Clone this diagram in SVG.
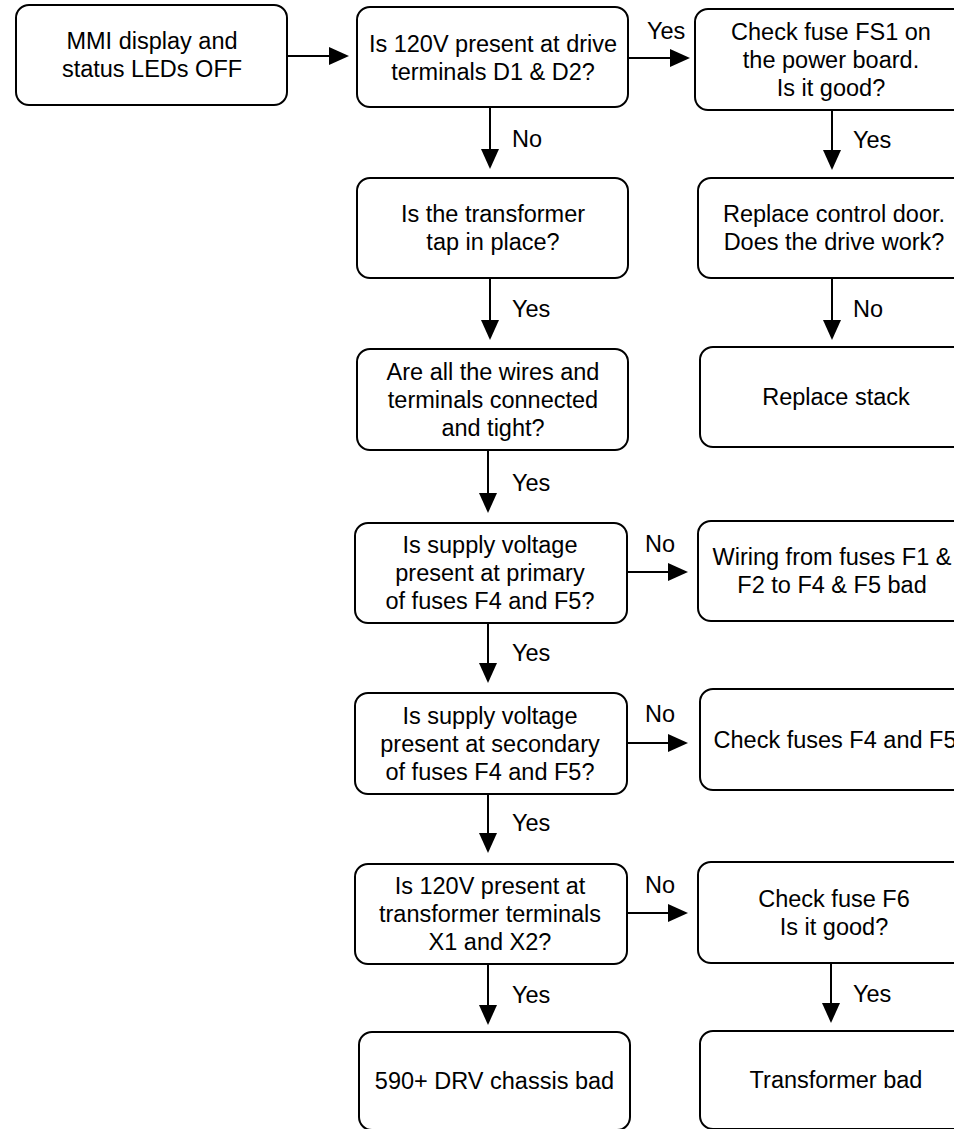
<svg xmlns="http://www.w3.org/2000/svg" width="954" height="1129" viewBox="0 0 954 1129">
<style>
.box{fill:#fff;stroke:#000;stroke-width:2}
.t{font-family:"Liberation Sans",Arial,sans-serif;font-size:23.5px;fill:#000;text-anchor:middle}
.l{font-family:"Liberation Sans",Arial,sans-serif;font-size:23.5px;fill:#000}
.c{stroke:#000;stroke-width:2;fill:none;marker-end:url(#ah)}
</style>
<defs>
<marker id="ah" markerUnits="userSpaceOnUse" markerWidth="20" markerHeight="18" viewBox="0 0 20 18" refX="10" refY="9" orient="auto">
<path d="M0,0 L20,9 L0,18 z" fill="#000"/>
</marker>
</defs>
<rect width="954" height="1129" fill="#fff"/>
<g id="connectors">
<line class="c" x1="287" y1="56" x2="339" y2="56"/>
<line class="c" x1="628" y1="58" x2="680" y2="58"/>
<text class="l" x="647" y="39">Yes</text>
<line class="c" x1="490" y1="107" x2="490" y2="159"/>
<text class="l" x="512" y="147">No</text>
<line class="c" x1="490" y1="278" x2="490" y2="330"/>
<text class="l" x="512" y="317">Yes</text>
<line class="c" x1="488" y1="450" x2="488" y2="503"/>
<text class="l" x="512" y="491">Yes</text>
<line class="c" x1="627" y1="572" x2="678" y2="572"/>
<text class="l" x="645" y="552">No</text>
<line class="c" x1="488" y1="623" x2="488" y2="673"/>
<text class="l" x="512" y="661">Yes</text>
<line class="c" x1="627" y1="743" x2="678" y2="743"/>
<text class="l" x="645" y="722">No</text>
<line class="c" x1="488" y1="794" x2="488" y2="843"/>
<text class="l" x="512" y="831">Yes</text>
<line class="c" x1="627" y1="913" x2="678" y2="913"/>
<text class="l" x="645" y="893">No</text>
<line class="c" x1="488" y1="964" x2="488" y2="1015"/>
<text class="l" x="512" y="1003">Yes</text>
<line class="c" x1="832" y1="110" x2="832" y2="160"/>
<text class="l" x="853" y="148">Yes</text>
<line class="c" x1="832" y1="278" x2="832" y2="330"/>
<text class="l" x="853" y="317">No</text>
<line class="c" x1="831" y1="963" x2="831" y2="1013"/>
<text class="l" x="853" y="1002">Yes</text>
</g>
<g id="n1"><rect class="box" x="16" y="5" width="271" height="100" rx="13"/>
<text class="t" x="152" y="49">MMI display and</text><text class="t" x="152" y="77">status LEDs OFF</text></g>
<g id="n2"><rect class="box" x="357" y="7" width="271" height="100" rx="13"/>
<text class="t" x="493" y="52">Is 120V present at drive</text><text class="t" x="493" y="80">terminals D1 &amp; D2?</text></g>
<g id="n3"><rect class="box" x="695" y="9" width="272" height="101" rx="13"/>
<text class="t" x="831" y="40">Check fuse FS1 on</text><text class="t" x="831" y="68">the power board.</text><text class="t" x="831" y="96">Is it good?</text></g>
<g id="n4"><rect class="box" x="357" y="178" width="271" height="100" rx="13"/>
<text class="t" x="493" y="222">Is the transformer</text><text class="t" x="493" y="250">tap in place?</text></g>
<g id="n5"><rect class="box" x="698" y="178" width="272" height="100" rx="13"/>
<text class="t" x="834" y="222">Replace control door.</text><text class="t" x="834" y="250">Does the drive work?</text></g>
<g id="n6"><rect class="box" x="357" y="349" width="271" height="101" rx="13"/>
<text class="t" x="493" y="380">Are all the wires and</text><text class="t" x="493" y="408">terminals connected</text><text class="t" x="493" y="436">and tight?</text></g>
<g id="n7"><rect class="box" x="700" y="347" width="272" height="100" rx="13"/>
<text class="t" x="836" y="405">Replace stack</text></g>
<g id="n8"><rect class="box" x="355" y="523" width="272" height="100" rx="13"/>
<text class="t" x="490" y="553">Is supply voltage</text><text class="t" x="490" y="581">present at primary</text><text class="t" x="490" y="609">of fuses F4 and F5?</text></g>
<g id="n9"><rect class="box" x="698" y="521" width="272" height="100" rx="13"/>
<text class="t" x="832" y="565">Wiring from fuses F1 &amp;</text><text class="t" x="832" y="593">F2 to F4 &amp; F5 bad</text></g>
<g id="n10"><rect class="box" x="355" y="693" width="272" height="101" rx="13"/>
<text class="t" x="490" y="724">Is supply voltage</text><text class="t" x="490" y="752">present at secondary</text><text class="t" x="490" y="780">of fuses F4 and F5?</text></g>
<g id="n11"><rect class="box" x="700" y="689" width="272" height="101" rx="13"/>
<text class="t" x="835" y="748">Check fuses F4 and F5</text></g>
<g id="n12"><rect class="box" x="355" y="864" width="272" height="100" rx="13"/>
<text class="t" x="490" y="894">Is 120V present at</text><text class="t" x="490" y="922">transformer terminals</text><text class="t" x="490" y="950">X1 and X2?</text></g>
<g id="n13"><rect class="box" x="698" y="862" width="272" height="101" rx="13"/>
<text class="t" x="834" y="907">Check fuse F6</text><text class="t" x="834" y="935">Is it good?</text></g>
<g id="n14"><rect class="box" x="359" y="1032" width="271" height="98" rx="13"/>
<text class="t" x="494.5" y="1089">590+ DRV chassis bad</text></g>
<g id="n15"><rect class="box" x="700" y="1031" width="272" height="98" rx="13"/>
<text class="t" x="836" y="1088">Transformer bad</text></g>
</svg>
